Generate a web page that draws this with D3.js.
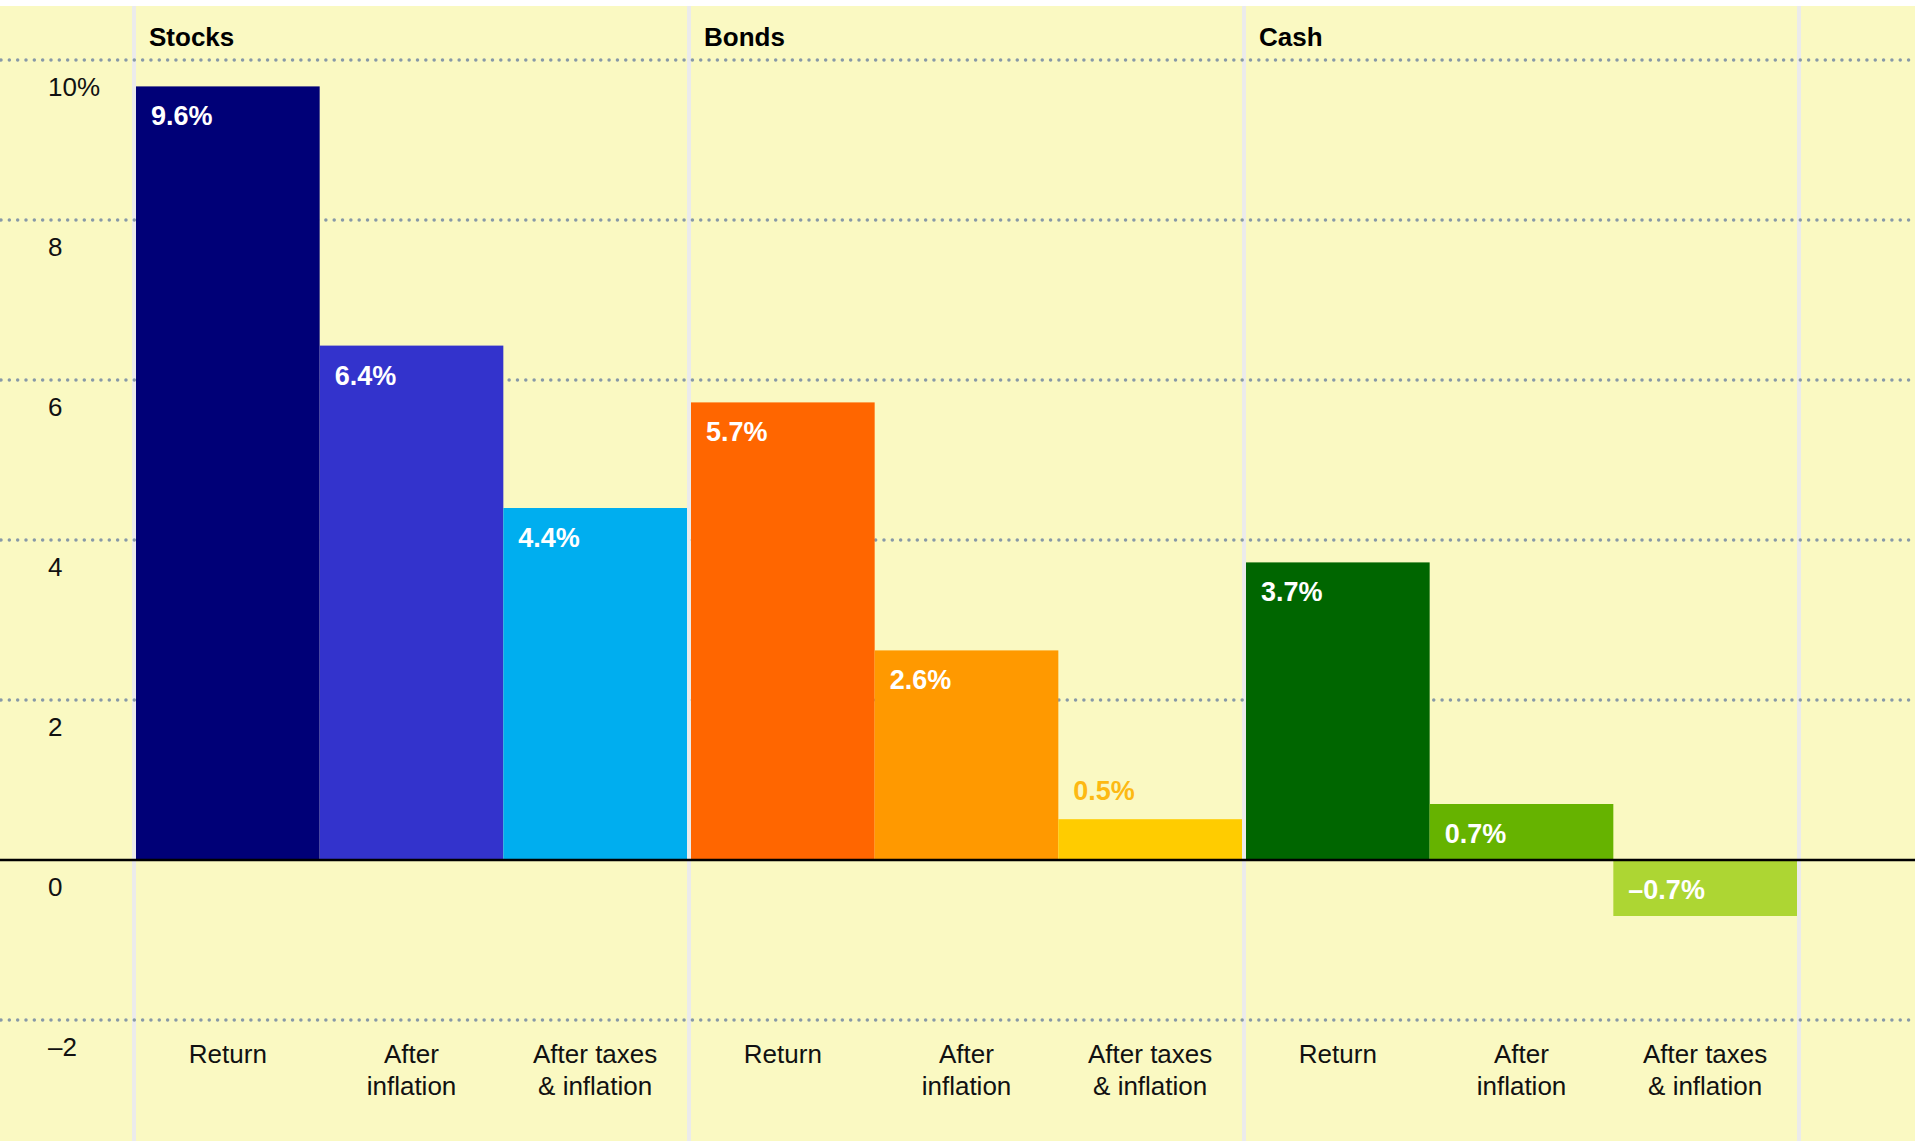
<!DOCTYPE html>
<html>
<head>
<meta charset="utf-8">
<script src="https://cdn.jsdelivr.net/npm/d3@7"></script>
<style>
  html, body { margin: 0; padding: 0; background: #ffffff; }
  svg { display: block; font-family: "Liberation Sans", Arial, Helvetica, sans-serif; }
</style>
</head>
<body>
<svg id="chart" width="1915" height="1141"></svg>
<script>
// ---- data ----
const categories = ["Stocks", "Bonds", "Cash"];
const measures = ["Return", "After inflation", "After taxes & inflation"];
const measureLabelLines = [["Return"], ["After", "inflation"], ["After taxes", "& inflation"]];

const stocksValues = [9.67, 6.43, 4.4];
const bondsValues = [5.72, 2.62, 0.51];
const cashValues = [3.72, 0.7, -0.7];

const stocksLabels = ["9.6%", "6.4%", "4.4%"];
const bondsLabels = ["5.7%", "2.6%", "0.5%"];
const cashLabels = ["3.7%", "0.7%", "\u20130.7%"];

const stocksColors = ["#000077", "#3333cc", "#00aeef"];
const bondsColors = ["#ff6600", "#ff9900", "#ffcc00"];
const cashColors = ["#006600", "#66b300", "#add633"];

const yTicks = [-2, 0, 2, 4, 6, 8, 10];
const yTickLabels = ["\u20132", "0", "2", "4", "6", "8", "10%"];

// ---- build rows ----
const groupValues = [stocksValues, bondsValues, cashValues];
const groupLabels = [stocksLabels, bondsLabels, cashLabels];
const groupColors = [stocksColors, bondsColors, cashColors];
const rows = [];
categories.forEach((c, gi) => {
  measures.forEach((m, mi) => {
    rows.push({
      cat: c, measure: m, mi: mi,
      value: groupValues[gi][mi],
      label: groupLabels[gi][mi],
      color: groupColors[gi][mi]
    });
  });
});

// ---- layout ----
const W = 1915, H = 1141;
const svg = d3.select("#chart");

const y = d3.scaleLinear().domain([-2, 10]).range([1020, 60]);
const xGroup = d3.scaleBand().domain(categories).range([134, 1799]).padding(0);
const xSub = d3.scaleBand().domain(measures).range([2, xGroup.bandwidth() - 2]).padding(0);

// background
svg.append("rect").attr("x", 0).attr("y", 6).attr("width", W).attr("height", H - 6).attr("fill", "#faf9c2");

// separators
const sepX = categories.map(c => xGroup(c)).concat([xGroup.range()[1]]);
svg.append("g").selectAll("line").data(sepX).join("line")
  .attr("x1", d => d).attr("x2", d => d)
  .attr("y1", 6).attr("y2", H)
  .attr("stroke", "#ebebeb").attr("stroke-width", 4);

// dotted gridlines
svg.append("g").selectAll("line").data(yTicks.filter(t => t !== 0)).join("line")
  .attr("x1", 1).attr("x2", W)
  .attr("y1", d => y(d)).attr("y2", d => y(d))
  .attr("stroke", "#8799a8").attr("stroke-width", 3.5)
  .attr("stroke-linecap", "round")
  .attr("stroke-dasharray", "0 8.33");

// y axis labels
const yAxis = d3.axisRight(y)
  .tickValues(yTicks)
  .tickSize(0).tickPadding(0)
  .tickFormat((d, i) => yTickLabels[i]);
const yg = svg.append("g").attr("transform", "translate(48,0)").call(yAxis);
yg.select(".domain").remove();
yg.selectAll("text")
  .attr("dy", null).attr("y", 35.5)
  .attr("text-anchor", "start")
  .attr("font-size", 26)
  .attr("font-family", "Liberation Sans, Arial, sans-serif")
  .attr("fill", "#111111");

// group titles
svg.append("g").selectAll("text").data(categories).join("text")
  .attr("x", d => xGroup(d) + 15)
  .attr("y", 46)
  .attr("font-size", 26).attr("font-weight", "bold")
  .attr("fill", "#000000")
  .text(d => d);

// bars
const barX = d => xGroup(d.cat) + xSub(d.measure);
svg.append("g").selectAll("rect").data(rows).join("rect")
  .attr("x", barX)
  .attr("width", xSub.bandwidth())
  .attr("y", d => Math.min(y(d.value), y(0)))
  .attr("height", d => Math.abs(y(d.value) - y(0)))
  .attr("fill", d => d.color);

// value labels
svg.append("g").selectAll("text").data(rows).join("text")
  .attr("x", d => barX(d) + 15)
  .attr("y", d => {
    const h = Math.abs(y(d.value) - y(0));
    const top = Math.min(y(d.value), y(0));
    return h < 50 && d.value > 0 ? top - 19 : top + 39;
  })
  .attr("font-size", 27).attr("font-weight", "bold")
  .attr("fill", d => {
    const h = Math.abs(y(d.value) - y(0));
    return h < 50 && d.value > 0 ? "#fdb913" : "#ffffff";
  })
  .text(d => d.label);

// zero line
svg.append("line")
  .attr("x1", 0).attr("x2", W)
  .attr("y1", y(0)).attr("y2", y(0))
  .attr("stroke", "#000000").attr("stroke-width", 2.6);

// category labels
const catLabels = svg.append("g").selectAll("text").data(rows).join("text")
  .attr("x", d => barX(d) + xSub.bandwidth() / 2)
  .attr("y", 1063)
  .attr("text-anchor", "middle")
  .attr("font-size", 26)
  .attr("fill", "#111111");
catLabels.selectAll("tspan").data(d => measureLabelLines[d.mi]).join("tspan")
  .attr("x", function() { return d3.select(this.parentNode).attr("x"); })
  .attr("dy", (d, i) => i === 0 ? 0 : 32)
  .text(d => d);
</script>
</body>
</html>
